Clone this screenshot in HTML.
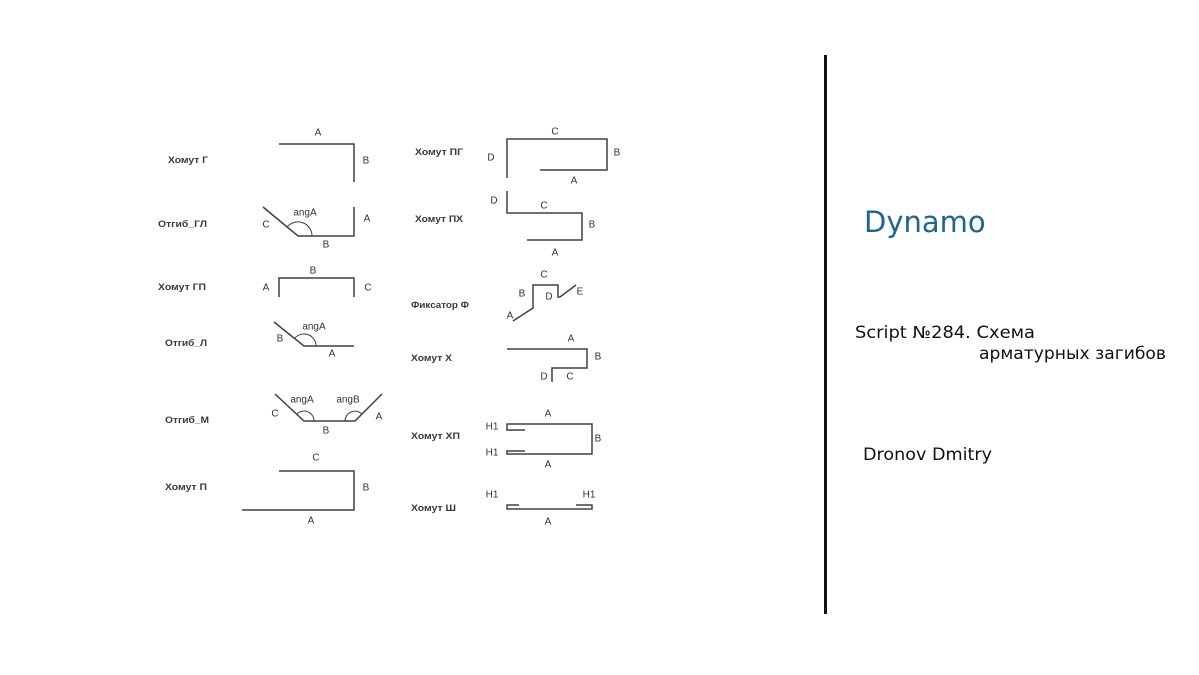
<!DOCTYPE html>
<html><head><meta charset="utf-8">
<style>
html,body{margin:0;padding:0;background:#fff;}
svg{display:block;}
.l{font-family:"Liberation Sans",Arial,sans-serif;font-size:9.5px;font-weight:bold;fill:#3a3a3a;}
.t{font-family:"Liberation Sans",Arial,sans-serif;font-size:10px;fill:#333;}
.s{stroke:#404040;stroke-width:1.5;fill:none;}
.a{stroke:#404040;stroke-width:1;fill:none;}
.r{font-family:'DejaVu Sans',Verdana,sans-serif;fill:#111;}
</style></head>
<body>
<svg width="1199" height="675" viewBox="0 0 1199 675" xmlns="http://www.w3.org/2000/svg">
<rect width="1199" height="675" fill="#fff"/>

<!-- Хомут Г -->
<text class="l" x="168" y="163" textLength="40" lengthAdjust="spacingAndGlyphs">Хомут Г</text>
<polyline class="s" points="279,144 354,144 354,182"/>
<text class="t" x="318" y="135.5" text-anchor="middle">A</text>
<text class="t" x="366" y="163.5" text-anchor="middle">B</text>

<!-- Отгиб_ГЛ -->
<text class="l" x="158" y="227" textLength="49" lengthAdjust="spacingAndGlyphs">Отгиб_ГЛ</text>
<polyline class="s" points="263,207 298,236 354,236 354,207"/>
<path class="a" d="M287.2,227 A14,14 0 0 1 312,236"/>
<text class="t" x="305" y="215.5" text-anchor="middle">angA</text>
<text class="t" x="266" y="227.5" text-anchor="middle">C</text>
<text class="t" x="326" y="247.5" text-anchor="middle">B</text>
<text class="t" x="367" y="221.5" text-anchor="middle">A</text>

<!-- Хомут ГП -->
<text class="l" x="158" y="290" textLength="48" lengthAdjust="spacingAndGlyphs">Хомут ГП</text>
<polyline class="s" points="279,297 279,278 354,278 354,297"/>
<text class="t" x="313" y="273.5" text-anchor="middle">B</text>
<text class="t" x="266" y="290.5" text-anchor="middle">A</text>
<text class="t" x="368" y="290.5" text-anchor="middle">C</text>

<!-- Отгиб_Л -->
<text class="l" x="165" y="346" textLength="42" lengthAdjust="spacingAndGlyphs">Отгиб_Л</text>
<polyline class="s" points="274,322 304,346 354,346"/>
<path class="a" d="M294.6,338.5 A12,12 0 0 1 316,346"/>
<text class="t" x="314" y="329.5" text-anchor="middle">angA</text>
<text class="t" x="280" y="341.5" text-anchor="middle">B</text>
<text class="t" x="332" y="356.5" text-anchor="middle">A</text>

<!-- Отгиб_М -->
<text class="l" x="165" y="423" textLength="44" lengthAdjust="spacingAndGlyphs">Отгиб_М</text>
<polyline class="s" points="275,394 304,421 355,421 382,394"/>
<path class="a" d="M296.7,414.2 A10,10 0 0 1 314,421"/>
<path class="a" d="M345,421 A10,10 0 0 1 362,414"/>
<text class="t" x="302" y="402.5" text-anchor="middle">angA</text>
<text class="t" x="348" y="402.5" text-anchor="middle">angB</text>
<text class="t" x="275" y="416.5" text-anchor="middle">C</text>
<text class="t" x="326" y="433.5" text-anchor="middle">B</text>
<text class="t" x="379" y="419.5" text-anchor="middle">A</text>

<!-- Хомут П -->
<text class="l" x="165" y="490" textLength="42" lengthAdjust="spacingAndGlyphs">Хомут П</text>
<polyline class="s" points="279,471 354,471 354,510 242,510"/>
<text class="t" x="316" y="460.5" text-anchor="middle">C</text>
<text class="t" x="366" y="490.5" text-anchor="middle">B</text>
<text class="t" x="311" y="523.5" text-anchor="middle">A</text>

<!-- Хомут ПГ -->
<text class="l" x="415" y="155" textLength="48" lengthAdjust="spacingAndGlyphs">Хомут ПГ</text>
<polyline class="s" points="507,178 507,139 607,139 607,170 540,170"/>
<text class="t" x="555" y="134.5" text-anchor="middle">C</text>
<text class="t" x="617" y="155.5" text-anchor="middle">B</text>
<text class="t" x="574" y="183.5" text-anchor="middle">A</text>
<text class="t" x="491" y="160.5" text-anchor="middle">D</text>

<!-- Хомут ПХ -->
<text class="l" x="415" y="222" textLength="48" lengthAdjust="spacingAndGlyphs">Хомут ПХ</text>
<polyline class="s" points="507,191 507,213 582,213 582,240 527,240"/>
<text class="t" x="494" y="203.5" text-anchor="middle">D</text>
<text class="t" x="544" y="208.5" text-anchor="middle">C</text>
<text class="t" x="592" y="227.5" text-anchor="middle">B</text>
<text class="t" x="555" y="255.5" text-anchor="middle">A</text>

<!-- Фиксатор Ф -->
<text class="l" x="411" y="308" textLength="58" lengthAdjust="spacingAndGlyphs">Фиксатор Ф</text>
<polyline class="s" points="513,321 533,308 533,285 558,285 558,297 560,297 576,285"/>
<text class="t" x="544" y="277.5" text-anchor="middle">C</text>
<text class="t" x="522" y="296.5" text-anchor="middle">B</text>
<text class="t" x="549" y="299.5" text-anchor="middle">D</text>
<text class="t" x="580" y="294.5" text-anchor="middle">E</text>
<text class="t" x="510" y="318.5" text-anchor="middle">A</text>

<!-- Хомут X -->
<text class="l" x="411" y="361" textLength="41" lengthAdjust="spacingAndGlyphs">Хомут X</text>
<polyline class="s" points="507,349 587,349 587,368 552,368 552,382"/>
<text class="t" x="571" y="341.5" text-anchor="middle">A</text>
<text class="t" x="598" y="359.5" text-anchor="middle">B</text>
<text class="t" x="544" y="379.5" text-anchor="middle">D</text>
<text class="t" x="570" y="379.5" text-anchor="middle">C</text>

<!-- Хомут ХП -->
<text class="l" x="411" y="439" textLength="49" lengthAdjust="spacingAndGlyphs">Хомут ХП</text>
<polyline class="s" points="525,430 507,430 507,424 592,424 592,454 507,454 507,451 525,451"/>
<text class="t" x="492" y="429.5" text-anchor="middle">H1</text>
<text class="t" x="492" y="455.5" text-anchor="middle">H1</text>
<text class="t" x="548" y="416.5" text-anchor="middle">A</text>
<text class="t" x="548" y="467.5" text-anchor="middle">A</text>
<text class="t" x="598" y="441.5" text-anchor="middle">B</text>

<!-- Хомут Ш -->
<text class="l" x="411" y="511" textLength="45" lengthAdjust="spacingAndGlyphs">Хомут Ш</text>
<polyline class="s" points="519,505 507,505 507,509 592,509 592,505 576,505"/>
<text class="t" x="492" y="497.5" text-anchor="middle">H1</text>
<text class="t" x="589" y="497.5" text-anchor="middle">H1</text>
<text class="t" x="548" y="524.5" text-anchor="middle">A</text>

<!-- divider -->
<rect x="824" y="55" width="3" height="559" fill="#111"/>

<!-- right text -->
<text x="864" y="232" font-family="'DejaVu Sans',Verdana,sans-serif" font-size="29" fill="#1f6590">Dynamo</text>
<text class="r" x="855" y="338" font-size="16.5" textLength="180" lengthAdjust="spacingAndGlyphs">Script №284. Схема</text>
<text class="r" x="979" y="359" font-size="16.5" textLength="187" lengthAdjust="spacingAndGlyphs">арматурных загибов</text>
<text class="r" x="863" y="460" font-size="17" textLength="129" lengthAdjust="spacingAndGlyphs">Dronov Dmitry</text>
</svg>
</body></html>
